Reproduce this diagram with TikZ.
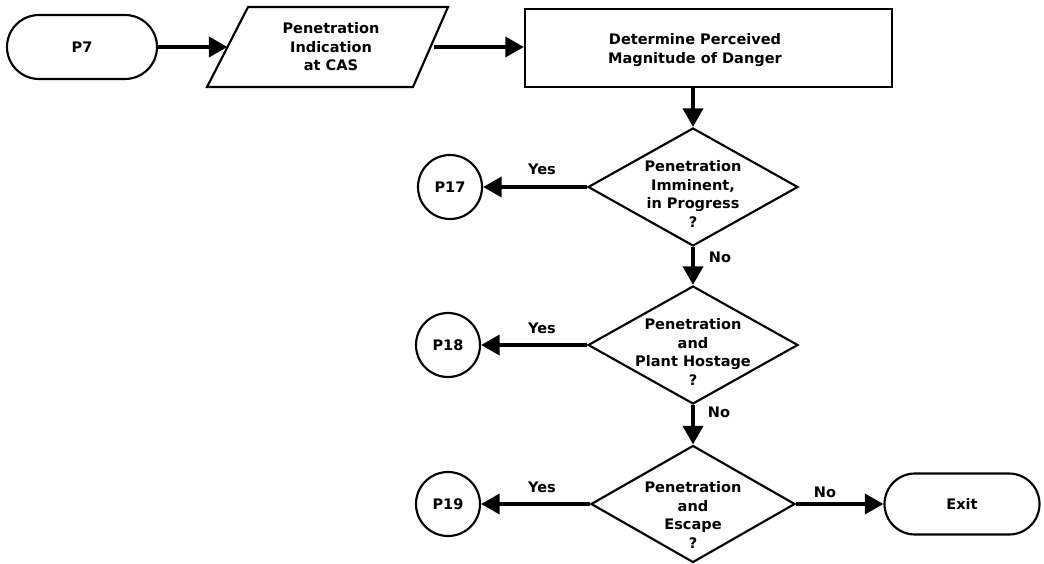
\documentclass[tikz,border=0pt]{standalone}
\usepackage{fontspec}
\setmainfont{DejaVu Sans}
\usetikzlibrary{shapes.geometric,shapes.misc,arrows.meta}
\begin{document}
\begin{tikzpicture}[x=0.75pt,y=-0.75pt,
  every node/.style={font=\fontsize{10.9}{13.9}\selectfont\bfseries, inner sep=0pt, align=center},
  border/.style={draw, line width=1.6pt},
  term/.style={border, rounded rectangle, minimum width=112.5pt, minimum height=48pt},
  procbox/.style={border, rectangle, minimum width=275.25pt, minimum height=58.5pt},
  dia/.style={border, diamond, minimum width=157.5pt, minimum height=88.5pt},
  conn/.style={border, circle, minimum size=48pt},
  arr/.style={line width=3pt, -{Triangle[length=14pt,width=15pt]}}
]
\useasboundingbox (0,0) rectangle (1044,563);

% top row
\node[term] (p7) at (82,47) {P7};
\draw[border] (207,87) -- (413,87) -- (448,7) -- (248,7) -- cycle;
\node (pt) at (331,47) {Penetration\\Indication\\at CAS};
\coordinate (pin) at (227.5,47);
\coordinate (pout) at (433.5,47);
\node[procbox] (det) at (708.5,48) {};
\node (dett) at (695,50) {Determine Perceived\\Magnitude of Danger};

% decisions
\node[dia] (d1) at (693,187) {};
\node (d1t) at (693,194) {Penetration\\Imminent,\\in Progress\\?};
\node[dia] (d2) at (693,345) {};
\node (d2t) at (693,352) {Penetration\\and\\Plant Hostage\\?};
\node[dia, minimum width=153pt, minimum height=87.75pt] (d3) at (693,504) {};
\node (d3t) at (693,515) {Penetration\\and\\Escape\\?};

% connectors
\node[conn] (p17) at (450,187) {P17};
\node[conn] (p18) at (448,345) {P18};
\node[conn] (p19) at (448,504) {P19};
\node[term, minimum width=116.25pt, minimum height=45.75pt] (exit) at (962,504) {Exit};

% arrows
\draw[arr] (p7.east) -- (pin);
\draw[arr] (pout) -- (det.west |- pout);
\draw[arr] (d1.north |- det.south) -- (d1.north);
\draw[arr] (d1.west) -- (p17.east);
\draw[arr] (d1.south) -- (d2.north);
\draw[arr] (d2.west) -- (p18.east);
\draw[arr] (d2.south) -- (d3.north);
\draw[arr] (d3.west) -- (p19.east);
\draw[arr] (d3.east) -- (exit.west);

% labels
\node (y1) at (542,169) {Yes};
\node (y2) at (542,328) {Yes};
\node (y3) at (542,487) {Yes};
\node (n1) at (720,257) {No};
\node (n2) at (719,412) {No};
\node (n3) at (825,492) {No};
\end{tikzpicture}
\end{document}
